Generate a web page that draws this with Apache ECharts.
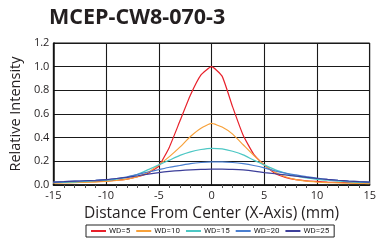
<!DOCTYPE html>
<html>
<head>
<meta charset="utf-8">
<script src="https://cdn.jsdelivr.net/npm/echarts@6/dist/echarts.min.js"></script>
<style>
  html, body { margin: 0; padding: 0; background: #fff; }
  #main { width: 379px; height: 243px; }
</style>
</head>
<body>
<div id="main"></div>
<script>
// distance from center, mm
const distance = [-15, -14, -13, -12, -11, -10, -9, -8, -7, -6, -5, -4, -3, -2, -1, 0,
  1, 2, 3, 4, 5, 6, 7, 8, 9, 10, 11, 12, 13, 14, 15];

// relative intensity per working distance
const wd5 = [0.02, 0.022, 0.025, 0.028, 0.03, 0.033, 0.04, 0.05, 0.07, 0.10, 0.16, 0.32, 0.54, 0.76, 0.93, 1.0,
  0.92, 0.66, 0.42, 0.26, 0.17, 0.10, 0.065, 0.045, 0.035, 0.03, 0.025, 0.022, 0.02, 0.018, 0.015];
const wd10 = [0.015, 0.017, 0.02, 0.022, 0.025, 0.03, 0.038, 0.05, 0.07, 0.11, 0.17, 0.24, 0.32, 0.41, 0.48, 0.52,
  0.49, 0.43, 0.34, 0.25, 0.17, 0.11, 0.07, 0.045, 0.032, 0.025, 0.02, 0.018, 0.015, 0.013, 0.012];
const wd15 = [0.02, 0.022, 0.025, 0.03, 0.035, 0.04, 0.05, 0.065, 0.09, 0.13, 0.17, 0.21, 0.25, 0.28, 0.30, 0.31,
  0.305, 0.285, 0.255, 0.21, 0.17, 0.13, 0.10, 0.075, 0.06, 0.048, 0.04, 0.032, 0.027, 0.023, 0.02];
const wd20 = [0.025, 0.028, 0.032, 0.036, 0.04, 0.046, 0.055, 0.07, 0.09, 0.11, 0.13, 0.15, 0.165, 0.18, 0.19, 0.195,
  0.195, 0.19, 0.18, 0.165, 0.145, 0.12, 0.10, 0.085, 0.07, 0.058, 0.048, 0.04, 0.033, 0.028, 0.025];
const wd25 = [0.025, 0.028, 0.032, 0.036, 0.04, 0.045, 0.055, 0.065, 0.078, 0.092, 0.105, 0.115, 0.122, 0.128, 0.132, 0.135,
  0.135, 0.132, 0.127, 0.118, 0.105, 0.095, 0.085, 0.075, 0.065, 0.055, 0.047, 0.04, 0.034, 0.029, 0.025];

const seriesNames = ['WD=5', 'WD=10', 'WD=15', 'WD=20', 'WD=25'];
const seriesData = [wd5, wd10, wd15, wd20, wd25];
const colors = ['#e8202a', '#f7a13a', '#4cc7c4', '#4a7fd0', '#3d3f9a'];

const font = '"Open Sans", "Noto Sans", sans-serif';

var myChart = echarts.init(document.getElementById('main'));

const option = {
  animation: false,
  title: {
    text: 'MCEP-CW8-070-3',
    left: 44,
    top: 2,
    textStyle: { fontFamily: font, fontWeight: 'bold', fontSize: 21.5, color: '#231f20' }
  },
  legend: {
    data: seriesNames,
    left: 86,
    top: 225,
    width: 250,
    orient: 'horizontal',
    itemWidth: 15,
    itemHeight: 2,
    itemGap: 6,
    padding: [2, 5, 2, 5],
    borderColor: '#222',
    borderWidth: 1,
    borderRadius: 0,
    icon: 'rect',
    textStyle: { fontFamily: '"Liberation Sans Narrow", "Roboto", sans-serif', fontSize: 8, color: '#222', padding: [0, 0, 0, -2] }
  },
  grid: {
    left: 47,
    right: 6,
    top: 43,
    bottom: 58,
    show: true,
    borderColor: '#111',
    borderWidth: 1
  },
  xAxis: {
    type: 'value',
    min: -15,
    max: 15,
    interval: 5,
    name: 'Distance From Center (X-Axis) (mm)',
    nameLocation: 'middle',
    nameGap: 21,
    nameTextStyle: { fontFamily: font, fontSize: 15.5, color: '#231f20' },
    axisLine: { onZero: false, lineStyle: { color: '#111', width: 1.5 } },
    axisTick: { show: false },
    minorTick: { show: true, splitNumber: 5, length: 3, lineStyle: { color: '#555' } },
    axisLabel: { fontFamily: font, fontSize: 11, color: '#231f20', margin: 5 },
    splitLine: { show: true, lineStyle: { color: '#1a1a1a', width: 1.1 } }
  },
  yAxis: {
    type: 'value',
    min: 0,
    max: 1.2,
    interval: 0.2,
    name: 'Relative Intensity',
    nameLocation: 'middle',
    nameGap: 27,
    nameTextStyle: { fontFamily: font, fontSize: 14.5, color: '#231f20' },
    axisLine: { show: true, onZero: false, lineStyle: { color: '#111', width: 1.5 } },
    axisTick: { show: false },
    axisLabel: {
      fontFamily: font, fontSize: 11, color: '#231f20', margin: 4,
      formatter: v => v.toFixed(1)
    },
    splitLine: { show: true, lineStyle: { color: '#1a1a1a', width: 1.1 } }
  },
  series: seriesData.map((arr, i) => ({
    name: seriesNames[i],
    type: 'line',
    data: distance.map((d, j) => [d, arr[j]]),
    showSymbol: false,
    smooth: 0.15,
    color: colors[i],
    lineStyle: { width: 1.2, color: colors[i] }
  }))
};

myChart.setOption(option);
</script>
</body>
</html>
